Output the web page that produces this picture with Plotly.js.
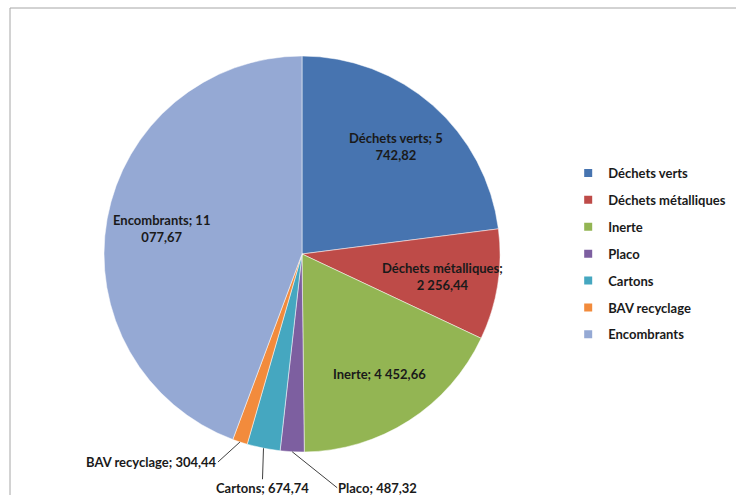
<!DOCTYPE html>
<html>
<head>
<meta charset="utf-8">
<script src="https://cdn.plot.ly/plotly-3.0.1.min.js"></script>
<style>html,body{margin:0;padding:0;background:#fff;}#chart{width:736px;height:495px;}</style>
</head>
<body>
<div id="chart"></div>
<script>
const categories = ["Déchets verts", "Déchets métalliques", "Inerte", "Placo", "Cartons", "BAV recyclage", "Encombrants"];
const tonnages = [5742.82, 2256.44, 4452.66, 487.32, 674.74, 304.44, 11077.67];
const colors = ["#4774B0", "#BE4B48", "#93B553", "#7D5FA0", "#45A7C0", "#F28B3C", "#95A9D4"];
const labelPlacement = ["inside", "inside", "inside", "outside", "outside", "outside", "inside"];

const W = 736, H = 495;
const FONT = "Lato, 'Open Sans', sans-serif";
const pieDomain = {x: [104 / W, 500 / W], y: [1 - 452 / H, 1 - 56 / H]};

function fmt(v) {
  const parts = v.toFixed(2).split(".");
  const intPart = parts[0].replace(/\B(?=(\d{3})+(?!\d))/g, " ");
  return intPart + "," + parts[1];
}
// Excel-style wrapping of the long inside data labels
function wrapLabel(name, v, inside) {
  const s = name + "; " + fmt(v);
  if (!inside || s.length <= 20) return s;
  const idx = s.lastIndexOf(" ", 20);
  return s.slice(0, idx) + "<br>" + s.slice(idx + 1);
}

// geometry of the pie in pixels (derived from its domain)
const cxPx = (pieDomain.x[0] + pieDomain.x[1]) / 2 * W;
const cyPx = (1 - (pieDomain.y[0] + pieDomain.y[1]) / 2) * H;
const rPx = Math.min((pieDomain.x[1] - pieDomain.x[0]) * W, (pieDomain.y[1] - pieDomain.y[0]) * H) / 2;
const total = tonnages.reduce((a, b) => a + b, 0);

// mid angle of each slice (clockwise from 12 o'clock)
let cum = 0;
const midAngles = tonnages.map(v => { const a = (cum + v / 2) / total * 2 * Math.PI; cum += v; return a; });

function pointAt(angle, dist) {
  const px = cxPx + Math.sin(angle) * dist;
  const py = cyPx - Math.cos(angle) * dist;
  return {x: px / W, y: 1 - py / H};
}

// leader-line label offsets (pixels) and anchors for the outside labels
const outsideOffsets = {
  3: {ax: 45, ay: 36, xanchor: "left", yanchor: "middle"},
  4: {ax: -1, ay: 31, xanchor: "center", yanchor: "top"},
  5: {ax: -22, ay: 20, xanchor: "right", yanchor: "middle"}
};

const annotations = categories.map((c, i) => {
  const inside = labelPlacement[i] === "inside";
  const txt = wrapLabel(c, tonnages[i], inside);
  const base = {
    xref: "paper", yref: "paper", text: txt,
    font: {family: FONT, size: 13, color: "#1a1a1a", weight: "bold"}
  };
  if (inside) {
    const p = pointAt(midAngles[i], rPx * 0.72);
    return Object.assign(base, {x: p.x, y: p.y, showarrow: false, xanchor: "center", yanchor: "middle", align: "center"});
  }
  const tip = pointAt(midAngles[i], rPx);
  const o = outsideOffsets[i];
  return Object.assign(base, {
    x: tip.x, y: tip.y, showarrow: true, arrowhead: 0, arrowwidth: 1, arrowcolor: "#404040",
    ax: o.ax, ay: o.ay, xanchor: o.xanchor, yanchor: o.yanchor, standoff: 0, borderpad: 0
  });
});

const pieTrace = {
  type: "pie",
  labels: categories,
  values: tonnages,
  textinfo: "none",
  sort: false,
  direction: "clockwise",
  rotation: 0,
  marker: {colors: colors, line: {color: "#ffffff", width: 0.5}},
  automargin: false,
  domain: pieDomain,
  showlegend: false,
  hoverinfo: "label+value+percent"
};

// legend entries (one per category, same colours as the slices)
const legendTraces = categories.map((c, i) => ({
  type: "scatter", mode: "markers", x: [null], y: [null],
  name: c, legendgroup: "g" + i,
  marker: {symbol: "square", size: 8, color: colors[i]},
  hoverinfo: "skip"
}));

const layout = {
  width: W, height: H,
  margin: {l: 0, r: 0, t: 0, b: 0, autoexpand: false},
  paper_bgcolor: "#ffffff",
  plot_bgcolor: "rgba(0,0,0,0)",
  xaxis: {visible: false}, yaxis: {visible: false},
  showlegend: true,
  legend: {
    x: 0.772, xanchor: "left", y: 1 - 254 / H, yanchor: "middle",
    font: {family: FONT, size: 13, color: "#1a1a1a", weight: "bold"},
    bgcolor: "rgba(0,0,0,0)",
    itemwidth: 30,
    traceorder: "grouped",
    tracegroupgap: 7
  },
  annotations: annotations,
  shapes: [{
    type: "rect", xref: "paper", yref: "paper",
    x0: 10 / W, x1: 1.05, y0: -0.05, y1: 1 - 8 / H,
    line: {color: "#a6a6a6", width: 1}, fillcolor: "rgba(0,0,0,0)", layer: "below"
  }]
};

Plotly.newPlot("chart", [pieTrace].concat(legendTraces), layout, {displayModeBar: false, staticPlot: true});
</script>
</body>
</html>
